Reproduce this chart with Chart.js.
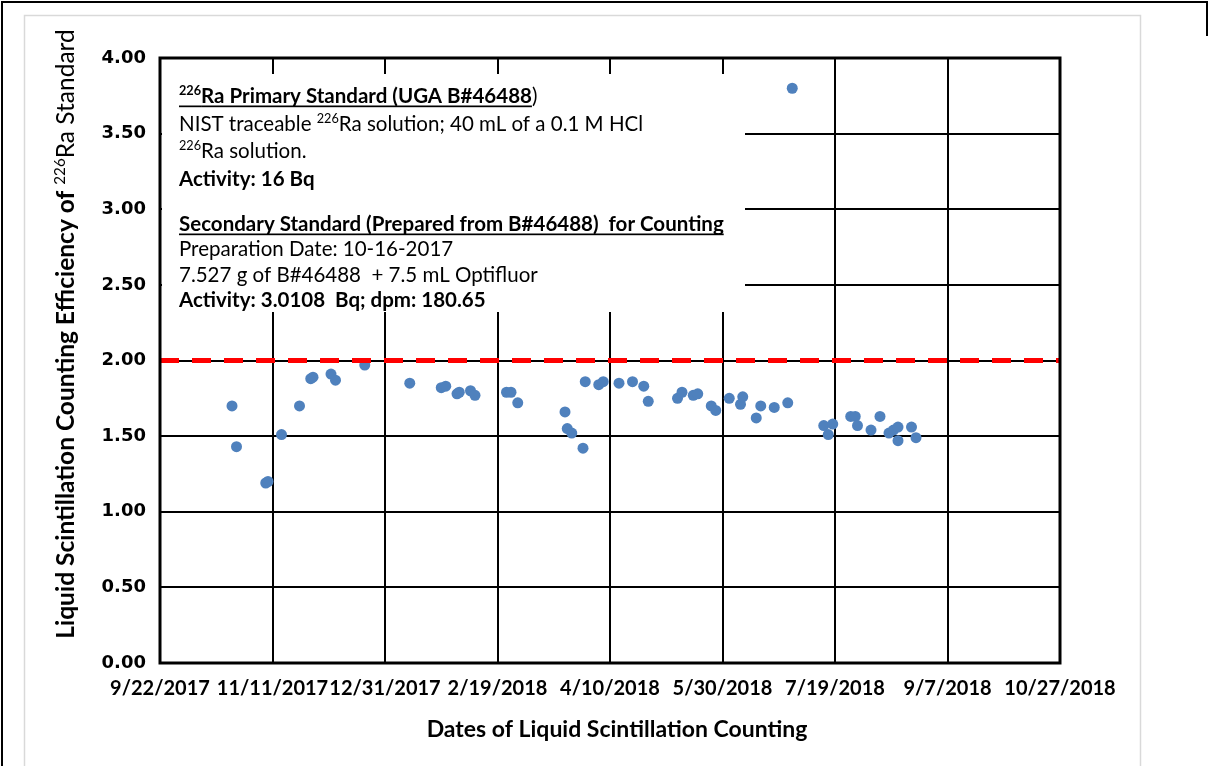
<!DOCTYPE html>
<html>
<head>
<meta charset="utf-8">
<script src="https://cdn.jsdelivr.net/npm/chart.js@4.4.1/dist/chart.umd.min.js"></script>
<style>
  html, body { margin: 0; padding: 0; background: #fff; }
  #wrap { width: 1209px; height: 766px; }
</style>
</head>
<body>
<div id="wrap"><canvas id="effChart" width="1209" height="766"></canvas></div>
<script>
// counting dates and efficiencies
const countDates = [
    "10/24/2017", "10/26/2017", "11/8/2017", "11/9/2017", "11/15/2017", "11/23/2017",
    "11/28/2017", "11/29/2017", "12/7/2017", "12/9/2017", "12/22/2017",
    "1/11/2018", "1/25/2018", "1/27/2018", "2/1/2018", "2/2/2018", "2/7/2018", "2/9/2018",
    "2/23/2018", "2/25/2018", "2/28/2018", "3/21/2018", "3/22/2018", "3/24/2018",
    "3/29/2018", "3/30/2018", "4/5/2018", "4/7/2018", "4/14/2018", "4/20/2018",
    "4/25/2018", "4/27/2018", "5/10/2018", "5/12/2018", "5/17/2018", "5/19/2018",
    "5/25/2018", "5/27/2018", "6/2/2018", "6/7/2018", "6/8/2018", "6/14/2018",
    "6/16/2018", "6/22/2018", "6/28/2018", "6/30/2018", "7/14/2018", "7/16/2018",
    "7/18/2018", "7/26/2018", "7/28/2018", "7/29/2018", "8/4/2018", "8/8/2018",
    "8/12/2018", "8/14/2018", "8/16/2018", "8/16/2018", "8/22/2018", "8/24/2018"
];
const efficiency = [
    1.70, 1.43, 1.19, 1.20, 1.51, 1.70,
    1.88, 1.89, 1.91, 1.87, 1.97,
    1.85, 1.82, 1.83, 1.78, 1.79, 1.80, 1.77,
    1.79, 1.79, 1.72, 1.66, 1.55, 1.52,
    1.42, 1.86, 1.84, 1.86, 1.85, 1.86,
    1.83, 1.73, 1.75, 1.79, 1.77, 1.78,
    1.70, 1.67, 1.75, 1.71, 1.76, 1.62,
    1.70, 1.69, 1.72, 3.80, 1.57, 1.51,
    1.58, 1.63, 1.63, 1.57, 1.54, 1.63,
    1.52, 1.54, 1.47, 1.56, 1.56, 1.49
];
const xTickLabels = ["9/22/2017", "11/11/2017", "12/31/2017", "2/19/2018", "4/10/2018",
    "5/30/2018", "7/19/2018", "9/7/2018", "10/27/2018"];
const yMin = 0, yMax = 4, yStep = 0.5;
const referenceLevel = 2.00;

// note box: each line is a list of runs  [text, bold, sup, underline]
const noteLines = [
    [["226", 1, 1, 1], ["Ra Primary Standard (UGA B#46488", 1, 0, 1], [")", 0, 0, 0]],
    [["NIST traceable ", 0, 0, 0], ["226", 0, 1, 0], ["Ra solution; 40 mL of a 0.1 M HCl", 0, 0, 0]],
    [["226", 0, 1, 0], ["Ra solution.", 0, 0, 0]],
    [["Activity: 16 Bq", 1, 0, 0]],
    [["Secondary Standard (Prepared from B#46488)  for Counting", 1, 0, 1]],
    [["Preparation Date: 10-16-2017", 0, 0, 0]],
    [["7.527 g of B#46488  + 7.5 mL Optifluor", 0, 0, 0]],
    [["Activity: 3.0108  Bq; dpm: 180.65", 1, 0, 0]]
];
const noteLineY = [38, 66, 93, 121, 166, 191, 217, 242]; // offsets from plot top
const yTitleRuns = [["Liquid Scintillation Counting Efficiency of ", 1, 0, 0], ["226", 0, 1, 0], ["Ra Standard", 0, 0, 0]];
const xTitle = "Dates of Liquid Scintillation Counting";

function toMs(s) {
    const [m, d, y] = s.split("/").map(Number);
    return Date.UTC(y, m - 1, d);
}

const xMin = toMs(xTickLabels[0]);
const xMax = toMs(xTickLabels[xTickLabels.length - 1]);
const points = countDates.map((d, i) => ({ x: toMs(d), y: efficiency[i] }));

function runFont(r, size, family) {
    return (r[1] ? "bold " : "") + (r[2] ? size * 0.62 : size) + "px " + family;
}

function runsWidth(ctx, runs, size, family) {
    let w = 0;
    runs.forEach(r => {
        ctx.font = runFont(r, size, family);
        w += ctx.measureText(r[0]).width;
    });
    return w;
}

function drawRuns(ctx, x, base, runs, size, family) {
    runs.forEach(r => {
        ctx.font = runFont(r, size, family);
        const w = ctx.measureText(r[0]).width;
        ctx.fillText(r[0], x, r[2] ? base - size * 0.38 : base);
        if (r[3]) ctx.fillRect(x, base + 2.5, w, 1.7);
        x += w;
    });
}

const decorPlugin = {
    id: "decor",
    beforeDatasetsDraw(chart) {
        const ctx = chart.ctx;
        const a = chart.chartArea;
        ctx.save();
        // white note box over the grid
        ctx.fillStyle = "#fff";
        ctx.fillRect(a.left + 2, a.top + 16, 583, 238);
        ctx.fillStyle = "#000";
        ctx.textBaseline = "alphabetic";
        noteLines.forEach((runs, i) => {
            drawRuns(ctx, a.left + 19, a.top + noteLineY[i] + 7, runs, 20.5, "Lato");
        });
        ctx.restore();
    },
    afterDraw(chart) {
        const ctx = chart.ctx;
        const a = chart.chartArea;
        ctx.save();
        // plot frame
        ctx.strokeStyle = "#000";
        ctx.lineWidth = 3;
        ctx.strokeRect(a.left, a.top, a.right - a.left, a.bottom - a.top);

        // y title
        ctx.fillStyle = "#000";
        ctx.save();
        ctx.translate(66, 334);
        ctx.rotate(-Math.PI / 2);
        const tw = runsWidth(ctx, yTitleRuns, 24.5, "Lato");
        drawRuns(ctx, -tw / 2, 8, yTitleRuns, 24.5, "Lato");
        ctx.restore();

        // x title
        ctx.font = "bold 23px Lato";
        ctx.textAlign = "center";
        ctx.textBaseline = "middle";
        ctx.fillText(xTitle, 617, 730);

        // page frames
        ctx.strokeStyle = "#d9d9d9";
        ctx.lineWidth = 1.5;
        ctx.strokeRect(24.5, 15.5, 1116, 800);
        ctx.strokeStyle = "#000";
        ctx.lineWidth = 2;
        ctx.beginPath();
        ctx.moveTo(2, 766); ctx.lineTo(2, 2); ctx.lineTo(1207, 2); ctx.lineTo(1207, 36);
        ctx.stroke();
        ctx.restore();
    }
};

new Chart(document.getElementById("effChart"), {
    type: "scatter",
    data: {
        datasets: [
            {
                type: "line",
                data: [{ x: xMin, y: referenceLevel }, { x: xMax, y: referenceLevel }],
                borderColor: "#ff0000",
                borderWidth: 5,
                borderDash: [19, 13],
                pointRadius: 0,
                order: 0
            },
            {
                data: points,
                backgroundColor: "#4F81BD",
                borderColor: "#4F81BD",
                borderWidth: 0,
                pointRadius: 5.5,
                order: 1
            }
        ]
    },
    options: {
        responsive: false,
        animation: false,
        devicePixelRatio: 1,
        layout: { padding: { top: 58, right: 149, left: 0, bottom: 0 } },
        plugins: { legend: { display: false }, tooltip: { enabled: false } },
        scales: {
            x: {
                type: "linear",
                min: xMin,
                max: xMax,
                afterBuildTicks(scale) {
                    scale.ticks = xTickLabels.map(l => ({ value: toMs(l) }));
                },
                afterFit(scale) { scale.height = 103; },
                ticks: {
                    autoSkip: false,
                    maxRotation: 0,
                    minRotation: 0,
                    padding: 14,
                    color: "#000",
                    font: { family: "Lato", weight: "bold", size: 20 },
                    callback: (v, i) => xTickLabels[i]
                },
                grid: { color: "#000", lineWidth: 2, drawTicks: false },
                border: { display: false }
            },
            y: {
                min: yMin,
                max: yMax,
                afterFit(scale) { scale.width = 160; },
                ticks: {
                    stepSize: yStep,
                    padding: 14,
                    color: "#000",
                    font: { family: "DejaVu Sans", weight: "bold", size: 18 },
                    callback: v => v.toFixed(2)
                },
                grid: { color: "#000", lineWidth: 2, drawTicks: false },
                border: { display: false }
            }
        }
    },
    plugins: [decorPlugin]
});
</script>
</body>
</html>
